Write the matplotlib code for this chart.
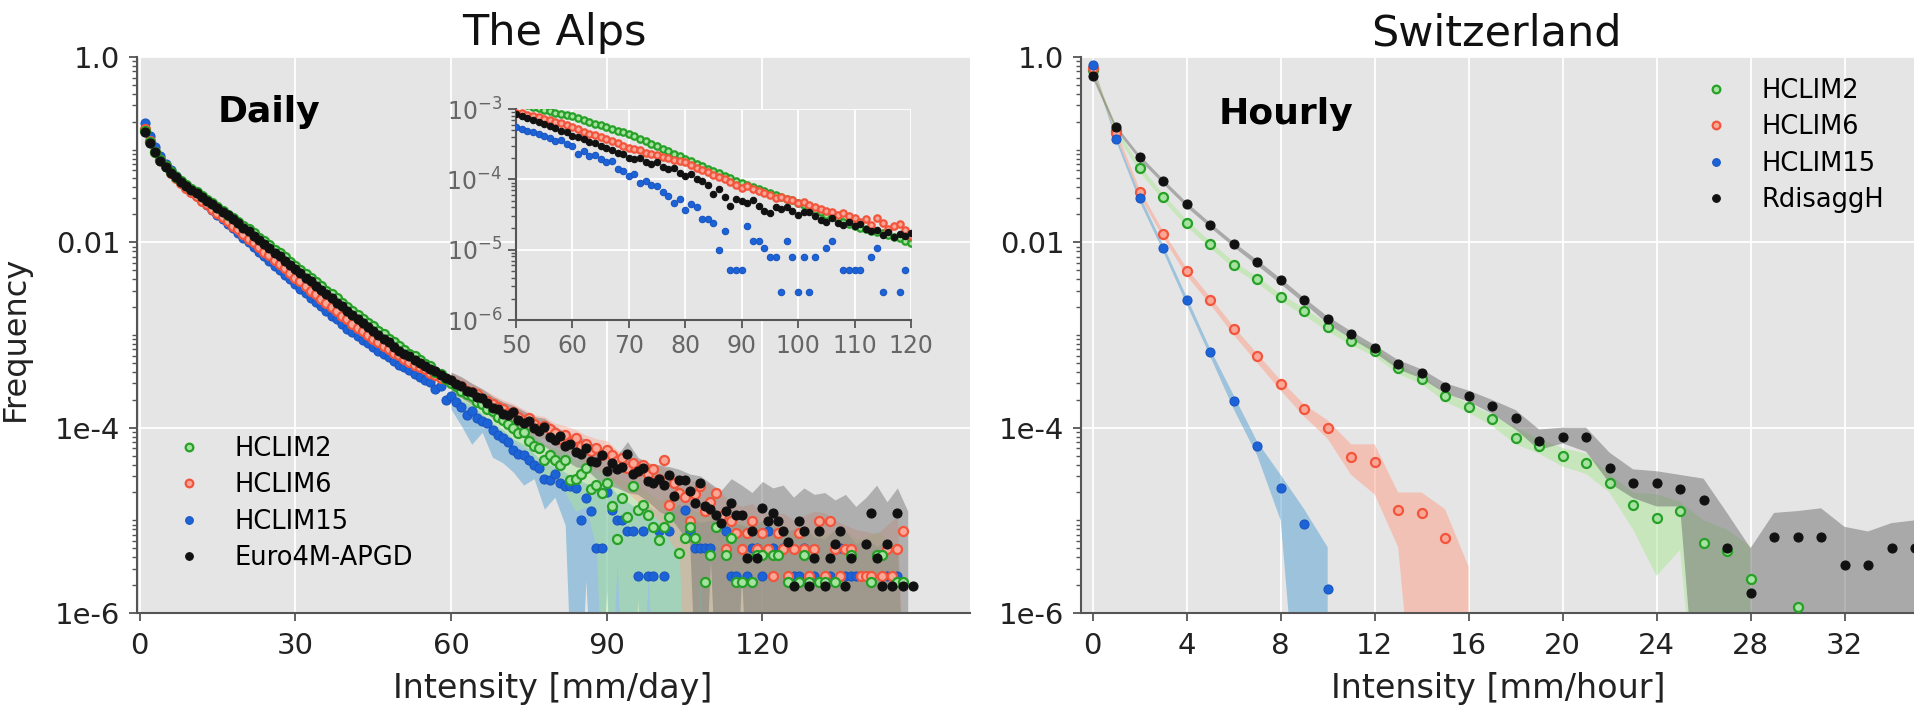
import numpy as np
import matplotlib
matplotlib.use("Agg")
import matplotlib.pyplot as plt
from matplotlib.lines import Line2D
from matplotlib.ticker import FixedLocator, LogLocator, NullFormatter

nan = np.nan

# ---------------------------- data (log10 of frequency) ----------------------------
daily_x = np.arange(1, 150)

daily_hclim2 = [
    -0.80, -0.92, -1.02, -1.11, -1.18, -1.24, -1.29, -1.34, -1.38, -1.42,
    -1.46, -1.50, -1.54, -1.58, -1.62, -1.66, -1.70, -1.74, -1.78, -1.82,
    -1.86, -1.90, -1.95, -1.99, -2.03, -2.08, -2.12, -2.16, -2.21, -2.25,
    -2.30, -2.34, -2.38, -2.43, -2.47, -2.52, -2.56, -2.60, -2.65, -2.70,
    -2.74, -2.78, -2.83, -2.87, -2.90, -2.96, -2.99, -3.04, -3.08, -3.12,
    -3.16, -3.20, -3.23, -3.27, -3.31, -3.33, -3.40, -3.42, -3.47, -3.52,
    -3.55, -3.60, -3.64, -3.66, -3.72, -3.75, -3.80, -3.82, -3.88, -3.92,
    -3.96, -4.00, -4.06, -4.05, -4.14, -4.20, -4.22, -4.35, -4.30, -4.35,
    -4.40, -4.35, -4.56, -4.55, -4.50, -4.44, -4.66, -4.62, -4.70, -4.60,
    -4.84, -5.20, -4.76, -4.96, -4.63, -4.89, -4.83, -4.94, -5.07, -5.21,
    -5.07, -4.96, nan, -5.35, -5.19, -5.07, -5.19, nan, -5.67, -5.37,
    -5.07, nan, -5.37, -5.19, -5.67, -5.67, nan, -5.67, -5.37, -5.37,
    nan, -5.37, -5.37, nan, -5.67, nan, -5.67, -5.37, -5.67, nan,
    -5.67, -5.67, nan, -5.67, nan, nan, -5.37, nan, nan, nan,
    -5.67, -5.37, -5.37, nan, nan, -5.67, -5.67, nan, nan,
]
daily_hclim6 = [
    -0.78, -0.91, -1.02, -1.11, -1.18, -1.25, -1.31, -1.36, -1.41, -1.46,
    -1.50, -1.55, -1.59, -1.64, -1.68, -1.73, -1.77, -1.82, -1.86, -1.91,
    -1.96, -2.00, -2.05, -2.10, -2.14, -2.19, -2.23, -2.28, -2.33, -2.38,
    -2.42, -2.47, -2.52, -2.56, -2.61, -2.65, -2.70, -2.74, -2.79, -2.83,
    -2.88, -2.92, -2.96, -3.00, -3.04, -3.08, -3.12, -3.15, -3.19, -3.22,
    -3.26, -3.29, -3.32, -3.35, -3.37, -3.41, -3.43, -3.46, -3.48, -3.50,
    -3.54, -3.55, -3.60, -3.62, -3.64, -3.69, -3.71, -3.74, -3.78, -3.80,
    -3.84, -3.83, -3.88, -3.92, -3.90, -3.96, -4.00, -3.98, -4.01, -4.06,
    -4.12, -4.08, -4.15, -4.11, -4.20, -4.18, -4.25, -4.22, -4.30, -4.24,
    -4.30, -4.36, -4.33, -4.44, -4.38, -4.47, -4.40, -4.50, -4.45, -4.55,
    -4.35, -4.83, -4.60, -4.70, -4.75, -5.01, -4.72, -4.63, -4.90, -4.80,
    -4.70, -4.95, -5.31, -5.01, -5.14, -5.31, -5.14, -5.01, -5.31, -5.14,
    -5.31, -5.60, -5.14, -5.31, -5.60, -5.31, -5.14, -5.31, -5.60, -5.31,
    -5.01, -5.60, -5.01, -5.31, -5.60, -5.31, -5.31, nan, -5.60, -5.60,
    -5.60, nan, -5.60, -5.31, -5.60, -5.31, -5.11, nan, nan,
]
daily_hclim15 = [
    -0.71, -0.85, -0.97, -1.07, -1.15, -1.22, -1.28, -1.34, -1.39, -1.45,
    -1.50, -1.55, -1.60, -1.65, -1.70, -1.75, -1.80, -1.85, -1.90, -1.95,
    -2.00, -2.05, -2.10, -2.15, -2.20, -2.25, -2.30, -2.35, -2.40, -2.45,
    -2.50, -2.55, -2.60, -2.64, -2.69, -2.74, -2.79, -2.83, -2.88, -2.93,
    -2.97, -3.01, -3.05, -3.09, -3.13, -3.17, -3.20, -3.24, -3.28, -3.32,
    -3.35, -3.38, -3.42, -3.45, -3.49, -3.51, -3.58, -3.55, -3.70, -3.66,
    -3.72, -3.78, -3.86, -3.82, -3.90, -3.93, -3.95, -4.02, -4.08, -4.11,
    -4.15, -4.24, -4.28, -4.30, -4.35, -4.40, -4.44, -4.55, -4.56, -4.50,
    -4.60, -4.63, -4.63, -4.65, -5.00, -4.76, -4.90, -5.30, -5.30, -4.69,
    -4.89, -5.00, -5.00, -5.12, -5.12, -5.60, -5.12, -5.60, -5.60, -5.12,
    -5.60, -5.12, nan, nan, -4.89, -5.12, -5.30, -5.30, -5.30, -5.30,
    nan, nan, -5.12, -5.60, -5.60, nan, -5.60, -5.30, -5.30, -5.60,
    -5.12, -5.30, nan, -5.30, -5.60, -5.60, -5.60, -5.30, -5.60, -5.60,
    nan, nan, -5.60, nan, -5.30, -5.60, -5.60, -5.60, nan, nan,
    -5.60, nan, -5.60, -5.60, nan, -5.60, nan, nan, nan,
]
daily_apgd = [
    -0.81, -0.93, -1.03, -1.12, -1.19, -1.25, -1.30, -1.35, -1.39, -1.43,
    -1.47, -1.51, -1.55, -1.59, -1.63, -1.67, -1.71, -1.75, -1.79, -1.84,
    -1.88, -1.93, -1.97, -2.02, -2.06, -2.11, -2.15, -2.20, -2.24, -2.29,
    -2.33, -2.38, -2.42, -2.47, -2.51, -2.56, -2.60, -2.65, -2.69, -2.74,
    -2.78, -2.83, -2.87, -2.91, -2.96, -3.00, -3.04, -3.08, -3.13, -3.17,
    -3.20, -3.23, -3.27, -3.30, -3.33, -3.37, -3.39, -3.43, -3.46, -3.49,
    -3.53, -3.55, -3.60, -3.62, -3.67, -3.68, -3.73, -3.79, -3.80, -3.85,
    -3.86, -3.83, -3.92, -3.95, -3.93, -4.00, -4.04, -3.99, -4.10, -4.13,
    -4.09, -4.20, -4.18, -4.26, -4.28, -4.22, -4.36, -4.37, -4.30, -4.47,
    -4.38, -4.45, -4.42, -4.28, -4.50, -4.47, -4.44, -4.58, -4.60, -4.55,
    -4.62, -4.51, -4.74, -4.56, -4.56, -4.68, -4.81, -4.60, -4.85, -4.88,
    -4.94, -5.03, -4.90, -4.81, -4.94, -4.94, -5.41, -5.12, -5.41, -4.87,
    -5.01, -4.92, -5.01, -5.12, -5.23, -5.71, -5.01, -5.12, -5.71, -5.41,
    -5.12, -5.71, -5.41, -5.25, -5.12, -5.71, -5.41, nan, nan, -5.25,
    -4.92, -5.41, -5.71, -5.25, -5.71, -4.92, -5.71, nan, -5.71,
]

# spread bands of the daily tail (upper / lower, log10), -8 = band reaches zero
daily_band_x = np.arange(60, 149, 2)
band2_hi = [-3.42, -3.52, -3.58, -3.66, -3.74, -3.84, -3.92, -3.98, -4.08, -4.18,
            -4.22, -4.25, -4.35, -4.32, -4.45, -4.45, -4.55, -4.58, -4.62, -4.70,
            -4.78, -4.75, -4.85, -4.88, -4.92, -4.90, -4.95, -5.00, -5.02, -5.05,
            -5.00, -5.05, -5.10, -5.12, -5.08, -5.15, -5.15, -5.12, -5.10, -5.20,
            -5.18, -5.12, -5.20, -5.25, -8]
band2_lo = [-3.62, -3.72, -3.80, -3.88, -3.98, -4.05, -4.15, -4.22, -4.40, -4.55,
            -4.62, -4.70, -4.90, -4.85, -5.30, -8, -5.45, -8, -8, -5.60,
            -8, -8, -8, -8, -8, -8, -8, -8, -8, -8,
            -8, -8, -8, -8, -8, -8, -8, -8, -8, -8,
            -8, -8, -8, -8, -8]
band6_hi = [-3.40, -3.46, -3.52, -3.58, -3.64, -3.70, -3.74, -3.80, -3.86, -3.88,
            -3.95, -3.98, -4.02, -4.08, -4.12, -4.14, -4.24, -4.30, -4.35, -4.38,
            -4.40, -4.45, -4.52, -4.58, -4.55, -4.62, -4.70, -4.80, -4.85, -4.82,
            -4.90, -4.95, -4.92, -5.00, -4.95, -4.90, -4.92, -5.00, -5.05, -5.10,
            -5.12, -5.15, -5.05, -4.95, -8]
band6_lo = [-3.58, -3.64, -3.70, -3.78, -3.84, -3.90, -3.95, -4.02, -4.08, -4.12,
            -4.20, -4.25, -4.30, -4.40, -4.45, -4.50, -4.62, -4.70, -4.80, -4.90,
            -5.00, -5.20, -5.40, -8, -5.60, -8, -8, -8, -8, -8,
            -8, -8, -8, -8, -8, -8, -8, -8, -8, -8,
            -8, -8, -8, -8, -8]
band15_hi = [-3.60, -3.70, -3.76, -3.85, -3.95, -4.02, -4.12, -4.18, -4.28, -4.38,
             -4.42, -4.48, -4.55, -4.60, -4.62, -4.58, -4.72, -4.80, -4.88, -4.84,
             -4.90, -4.92, -4.82, -4.98, -5.02, -5.00, -4.98, -5.02, -5.05, -5.08,
             -5.00, -5.08, -5.12, -5.10, -5.08, -5.18, -5.20, -5.10, -5.12, -5.25,
             -5.20, -5.28, -5.22, -5.30, -8]
band15_lo = [-3.80, -3.98, -4.18, -4.05, -4.32, -4.38, -4.48, -4.62, -4.55, -4.88,
             -4.75, -5.05, -8, -5.65, -8, -5.75, -8, -8, -5.85, -8,
             -8, -8, -8, -8, -8, -8, -8, -8, -8, -8,
             -8, -8, -8, -8, -8, -8, -8, -8, -8, -8,
             -8, -8, -8, -8, -8]
band_obs_hi = [-3.40, -3.45, -3.52, -3.58, -3.66, -3.72, -3.76, -3.82, -3.88, -3.90,
               -3.98, -4.05, -4.10, -4.12, -4.20, -4.25, -4.30, -4.15, -4.32, -4.38,
               -4.40, -4.42, -4.45, -4.50, -4.52, -4.60, -4.68, -4.55, -4.62, -4.70,
               -4.58, -4.65, -4.62, -4.75, -4.65, -4.72, -4.70, -4.78, -4.72, -4.85,
               -4.75, -4.62, -4.80, -4.65, -4.90]
band_obs_lo = [-3.62, -3.68, -3.75, -3.80, -3.90, -3.98, -4.00, -4.08, -4.15, -4.20,
               -4.28, -4.35, -4.42, -4.45, -4.55, -4.62, -4.65, -4.70, -4.72, -4.80,
               -4.90, -4.95, -5.10, -5.25, -8, -5.45, -8, -8, -5.60, -8,
               -8, -8, -8, -8, -8, -8, -8, -8, -8, -8,
               -8, -8, -8, -8, -8]

# inset: daily tail 50-120 mm/day
inset_x = np.arange(50, 121)
inset_hclim2 = [
    -2.90, -2.92, -2.95, -2.97, -2.99, -3.01, -3.03, -3.05, -3.07, -3.09,
    -3.10, -3.13, -3.16, -3.18, -3.21, -3.23, -3.26, -3.28, -3.31, -3.33,
    -3.36, -3.39, -3.43, -3.46, -3.50, -3.53, -3.57, -3.60, -3.64, -3.67,
    -3.71, -3.74, -3.78, -3.81, -3.85, -3.88, -3.91, -3.95, -3.98, -4.02,
    -4.05, -4.08, -4.11, -4.14, -4.17, -4.19, -4.22, -4.25, -4.28, -4.30,
    -4.33, -4.37, -4.40, -4.44, -4.47, -4.50, -4.54, -4.57, -4.60, -4.64,
    -4.67, -4.69, -4.71, -4.73, -4.75, -4.76, -4.79, -4.82, -4.84, -4.87,
    -4.90,
]
inset_hclim6 = [
    -3.05, -3.06, -3.08, -3.10, -3.12, -3.14, -3.16, -3.18, -3.20, -3.23,
    -3.26, -3.29, -3.32, -3.35, -3.37, -3.40, -3.43, -3.46, -3.49, -3.52,
    -3.55, -3.57, -3.59, -3.62, -3.64, -3.66, -3.68, -3.70, -3.72, -3.74,
    -3.76, -3.80, -3.84, -3.87, -3.90, -3.94, -3.97, -4.00, -4.04, -4.08,
    -4.12, -4.10, -4.14, -4.17, -4.20, -4.22, -4.26, -4.25, -4.28, -4.30,
    -4.33, -4.32, -4.36, -4.40, -4.42, -4.45, -4.47, -4.50, -4.48, -4.52,
    -4.55, -4.60, -4.57, -4.65, -4.55, -4.62, -4.70, -4.66, -4.64, -4.72,
    -4.81,
]
inset_hclim15 = [
    -3.26, -3.28, -3.31, -3.33, -3.36, -3.38, -3.41, -3.45, -3.44, -3.50,
    -3.52, -3.64, -3.60, -3.67, -3.66, -3.71, -3.76, -3.74, -3.85, -3.88,
    -3.95, -3.93, -4.05, -4.03, -4.08, -4.10, -4.18, -4.24, -4.33, -4.28,
    -4.43, -4.35, -4.40, -4.57, -4.57, -4.62, -5.00, -4.74, -5.29, -5.29,
    -5.29, -4.67, -4.88, -4.88, -4.98, -5.10, -5.10, -5.60, -4.88, -5.10,
    -5.60, -5.10, -5.60, -5.10, nan, -4.98, -4.88, nan, -5.29, -5.29,
    -5.29, -5.29, nan, -5.10, -4.98, -5.60, nan, nan, -5.60, -5.29,
    nan,
]
inset_apgd = [
    -3.07, -3.10, -3.13, -3.16, -3.18, -3.22, -3.24, -3.27, -3.31, -3.33,
    -3.38, -3.40, -3.43, -3.47, -3.49, -3.52, -3.56, -3.58, -3.62, -3.64,
    -3.69, -3.71, -3.69, -3.76, -3.78, -3.75, -3.82, -3.86, -3.84, -3.91,
    -3.95, -3.92, -3.99, -4.03, -4.08, -4.21, -4.14, -4.25, -4.38, -4.28,
    -4.31, -4.33, -4.30, -4.38, -4.45, -4.48, -4.40, -4.42, -4.39, -4.45,
    -4.50, -4.47, -4.46, -4.52, -4.58, -4.60, -4.55, -4.62, -4.65, -4.60,
    -4.67, -4.63, -4.70, -4.74, -4.72, -4.79, -4.75, -4.82, -4.78, -4.80,
    -4.76,
]

# hourly, Switzerland
hourly_x_obs = np.arange(0, 36)
hourly_apgd = [-0.20, -0.76, -1.08, -1.34, -1.59, -1.81, -2.02, -2.21, -2.41, -2.62,
               -2.83, -2.99, -3.14, -3.31, -3.41, -3.56, -3.66, -3.77, -3.90, -4.14,
               -4.10, -4.10, -4.44, -4.60, -4.60, -4.66, -4.78, -5.30, -5.78, -5.18,
               -5.18, -5.18, -5.48, -5.48, -5.30, -5.30]
hourly_apgd_hi = [-0.17, -0.74, -1.06, -1.32, -1.57, -1.79, -2.00, -2.19, -2.39, -2.60,
                  -2.80, -2.96, -3.11, -3.27, -3.37, -3.52, -3.60, -3.70, -3.81, -4.02,
                  -4.00, -4.00, -4.27, -4.45, -4.47, -4.51, -4.55, -4.92, -5.30, -4.92,
                  -4.90, -4.87, -5.07, -5.12, -5.03, -5.00]
hourly_apgd_lo = [-0.23, -0.79, -1.11, -1.37, -1.62, -1.84, -2.05, -2.25, -2.45, -2.66,
                  -2.88, -3.04, -3.19, -3.37, -3.47, -3.63, -3.72, -3.85, -4.02, -4.24,
                  -4.17, -4.26, -4.60, -4.76, -4.85, -4.85, -8, -8, -8, -8,
                  -8, -8, -8, -8, -8, -8]

hourly_x2 = np.arange(0, 31)
hourly_hclim2 = [-0.145, -0.80, -1.20, -1.51, -1.79, -2.015, -2.24, -2.40, -2.59, -2.74,
                 -2.91, -3.06, -3.17, -3.36, -3.47, -3.66, -3.78, -3.91, -4.11, -4.20,
                 -4.31, -4.38, -4.60, -4.83, -4.98, -4.90, -5.24, -5.33, -5.63, nan,
                 -5.94]
hourly_band_x2 = np.arange(0, 29)
hourly_hclim2_hi = [-0.12, -0.77, -1.17, -1.48, -1.76, -1.99, -2.21, -2.37, -2.56, -2.71,
                    -2.88, -3.03, -3.14, -3.33, -3.44, -3.62, -3.74, -3.86, -4.00, -4.12,
                    -4.22, -4.28, -4.50, -4.70, -4.72, -4.80, -5.00, -5.10, -5.28]
hourly_hclim2_lo = [-0.18, -0.84, -1.24, -1.55, -1.83, -2.06, -2.28, -2.44, -2.63, -2.79,
                    -2.96, -3.11, -3.23, -3.42, -3.53, -3.72, -3.84, -3.98, -4.18, -4.28,
                    -4.42, -4.50, -4.70, -5.10, -5.60, -5.32, -8, -8, -8]

hourly_x6 = np.arange(0, 16)
hourly_hclim6 = [-0.12, -0.82, -1.46, -1.91, -2.31, -2.62, -2.94, -3.23, -3.53, -3.80,
                 -4.00, -4.32, -4.37, -4.89, -4.92, -5.19]
hourly_band_x6 = np.arange(0, 17)
hourly_hclim6_hi = [-0.09, -0.79, -1.43, -1.88, -2.28, -2.59, -2.91, -3.20, -3.49, -3.75,
                    -3.92, -4.18, -4.18, -4.70, -4.70, -4.88, -5.50]
hourly_hclim6_lo = [-0.15, -0.86, -1.50, -1.95, -2.36, -2.67, -3.00, -3.30, -3.60, -3.88,
                    -4.12, -4.51, -4.72, -5.29, -8, -8, -8]

hourly_x15 = np.arange(0, 11)
hourly_hclim15 = [-0.09, -0.885, -1.52, -2.06, -2.62, -3.18, -3.71, -4.20, -4.65, -5.04, -5.74]
hourly_hclim15_hi = [-0.06, -0.86, -1.49, -2.03, -2.59, -3.15, -3.65, -4.15, -4.51, -4.88, -5.29]
hourly_hclim15_lo = [-0.12, -0.91, -1.56, -2.10, -2.67, -3.23, -3.80, -4.30, -5.00, -8, -8]


def freq(v):
    return np.power(10.0, np.asarray(v, dtype=float))


# ---------------------------- styles ----------------------------
BG = "#e5e5e5"
sty = {
    "HCLIM2": dict(mfc="#a6e3a1", mec="#26a026", mew=1.6),
    "HCLIM6": dict(mfc="#f9a898", mec="#f2553c", mew=1.6),
    "HCLIM15": dict(mfc="#1d63d8", mec="#1a55c0", mew=0.8),
    "obs": dict(mfc="#111111", mec="#111111", mew=0.8),
}
band_col = {"HCLIM2": "#abe795", "HCLIM6": "#ff9f87", "HCLIM15": "#57a1d3", "obs": "#6e6e6e"}

fig = plt.figure(figsize=(19.15, 7.06), dpi=100)
W, H = 1915.0, 706.0
axL = fig.add_axes([137 / W, 1 - 613 / H, 833 / W, 556 / H])
axR = fig.add_axes([1081 / W, 1 - 613 / H, (1915 - 1081) / W, 556 / H])
axI = fig.add_axes([516 / W, 1 - 320 / H, 395 / W, 211 / H])


def style_axes(ax, labelsize, labelcolor):
    ax.set_facecolor(BG)
    ax.set_yscale("log")
    for s in ["top", "right"]:
        ax.spines[s].set_visible(False)
    for s in ["left", "bottom"]:
        ax.spines[s].set_color("#555555")
        ax.spines[s].set_linewidth(1.5)
    ax.grid(True, which="major", color="white", lw=1.3)
    ax.set_axisbelow(True)
    ax.tick_params(which="major", length=6, width=1.3, color="#555555",
                   labelsize=labelsize, labelcolor=labelcolor)
    ax.tick_params(which="minor", length=3.5, width=1.0, color="#555555")
    ax.tick_params(axis="x", pad=8)
    ax.tick_params(axis="y", pad=6)
    ax.yaxis.set_minor_locator(LogLocator(base=10, subs=np.arange(1, 10)))
    ax.yaxis.set_minor_formatter(NullFormatter())


def dots(ax, x, y, key, ms, z=3):
    ax.plot(x, freq(y), ls="none", marker="o", ms=ms, zorder=z, **sty[key])


# ---------------------------- left: daily, the Alps ----------------------------
style_axes(axL, 21, "#222222")
axL.fill_between(daily_band_x, freq(band15_lo), freq(band15_hi), color=band_col["HCLIM15"], alpha=0.5, lw=0)
axL.fill_between(daily_band_x, freq(band2_lo), freq(band2_hi), color=band_col["HCLIM2"], alpha=0.45, lw=0)
axL.fill_between(daily_band_x, freq(band6_lo), freq(band6_hi), color=band_col["HCLIM6"], alpha=0.4, lw=0)
axL.fill_between(daily_band_x, freq(band_obs_lo), freq(band_obs_hi), color=band_col["obs"], alpha=0.45, lw=0)
dots(axL, daily_x, daily_hclim15, "HCLIM15", 6.5)
dots(axL, daily_x, daily_hclim6, "HCLIM6", 6.5)
dots(axL, daily_x, daily_hclim2, "HCLIM2", 6.5)
dots(axL, daily_x, daily_apgd, "obs", 6.5, z=4)
axL.set_xlim(-0.5, 160)
axL.set_ylim(1e-6, 1.0)
axL.xaxis.set_major_locator(FixedLocator([0, 30, 60, 90, 120]))
axL.yaxis.set_major_locator(FixedLocator([1e-6, 1e-4, 1e-2, 1.0]))
axL.set_yticklabels(["1e-6", "1e-4", "0.01", "1.0"])

# ---------------------------- inset ----------------------------
style_axes(axI, 17, "#666666")
dots(axI, inset_x, inset_hclim2, "HCLIM2", 4.6)
dots(axI, inset_x, inset_hclim6, "HCLIM6", 4.6)
dots(axI, inset_x, inset_hclim15, "HCLIM15", 4.6)
dots(axI, inset_x, inset_apgd, "obs", 4.6)
axI.set_xlim(50, 120)
axI.set_ylim(1e-6, 1e-3)
axI.xaxis.set_major_locator(FixedLocator([50, 60, 70, 80, 90, 100, 110, 120]))
axI.yaxis.set_major_locator(FixedLocator([1e-6, 1e-5, 1e-4, 1e-3]))
axI.set_yticklabels([r"$10^{-6}$", r"$10^{-5}$", r"$10^{-4}$", r"$10^{-3}$"])
axI.tick_params(axis="both", pad=4)

# ---------------------------- right: hourly, Switzerland ----------------------------
style_axes(axR, 21, "#222222")
axR.fill_between(hourly_x15, freq(hourly_hclim15_lo), freq(hourly_hclim15_hi), color=band_col["HCLIM15"], alpha=0.5, lw=0)
axR.fill_between(hourly_band_x6, freq(hourly_hclim6_lo), freq(hourly_hclim6_hi), color=band_col["HCLIM6"], alpha=0.5, lw=0)
axR.fill_between(hourly_band_x2, freq(hourly_hclim2_lo), freq(hourly_hclim2_hi), color=band_col["HCLIM2"], alpha=0.5, lw=0)
axR.fill_between(hourly_x_obs, freq(hourly_apgd_lo), freq(hourly_apgd_hi), color=band_col["obs"], alpha=0.5, lw=0)
dots(axR, hourly_x2, hourly_hclim2, "HCLIM2", 6.5)
dots(axR, hourly_x6, hourly_hclim6, "HCLIM6", 6.5)
dots(axR, hourly_x15, hourly_hclim15, "HCLIM15", 6.5)
dots(axR, hourly_x_obs, hourly_apgd, "obs", 6.5)
axR.set_xlim(-0.5, 35.0)
axR.set_ylim(1e-6, 1.0)
axR.xaxis.set_major_locator(FixedLocator([0, 4, 8, 12, 16, 20, 24, 28, 32]))
axR.yaxis.set_major_locator(FixedLocator([1e-6, 1e-4, 1e-2, 1.0]))
axR.set_yticklabels(["1e-6", "1e-4", "0.01", "1.0"])

# ---------------------------- legends ----------------------------
def handles(labels):
    keys = ["HCLIM2", "HCLIM6", "HCLIM15", "obs"]
    return [Line2D([], [], ls="none", marker="o", ms=5.5, **sty[k]) for k in keys], labels


h, lab = handles(["HCLIM2", "HCLIM6", "HCLIM15", "Euro4M-APGD"])
axL.legend(h, lab, loc="upper left", bbox_to_anchor=(0.031, 0.318), frameon=False,
           fontsize=18.5, borderaxespad=0, borderpad=0, handlelength=2.0,
           handletextpad=0.8, labelspacing=0.4)
h, lab = handles(["HCLIM2", "HCLIM6", "HCLIM15", "RdisaggH"])
axR.legend(h, lab, loc="upper left", bbox_to_anchor=(0.730, 0.962), frameon=False,
           fontsize=18.5, borderaxespad=0, borderpad=0, handlelength=2.0,
           handletextpad=0.8, labelspacing=0.4)

# ---------------------------- texts ----------------------------
fig.text(554 / W, 1 - 45 / H, "The Alps", fontsize=31, ha="center", va="baseline", color="#111111")
fig.text(1496 / W, 1 - 45 / H, "Switzerland", fontsize=31, ha="center", va="baseline", color="#111111")
fig.text(269 / W, 1 - 122 / H, "Daily", fontsize=26, fontweight="bold", ha="center", va="baseline")
fig.text(1286 / W, 1 - 124 / H, "Hourly", fontsize=26, fontweight="bold", ha="center", va="baseline")
fig.text(553 / W, 1 - 698 / H, "Intensity [mm/day]", fontsize=24, ha="center", va="baseline", color="#222222")
fig.text(1498 / W, 1 - 698 / H, "Intensity [mm/hour]", fontsize=24, ha="center", va="baseline", color="#222222")
fig.text(15 / W, 1 - 338 / H, "Frequency", fontsize=23, rotation=90, ha="center", va="center", color="#222222")

fig.savefig("out.png", dpi=100, facecolor="white")
